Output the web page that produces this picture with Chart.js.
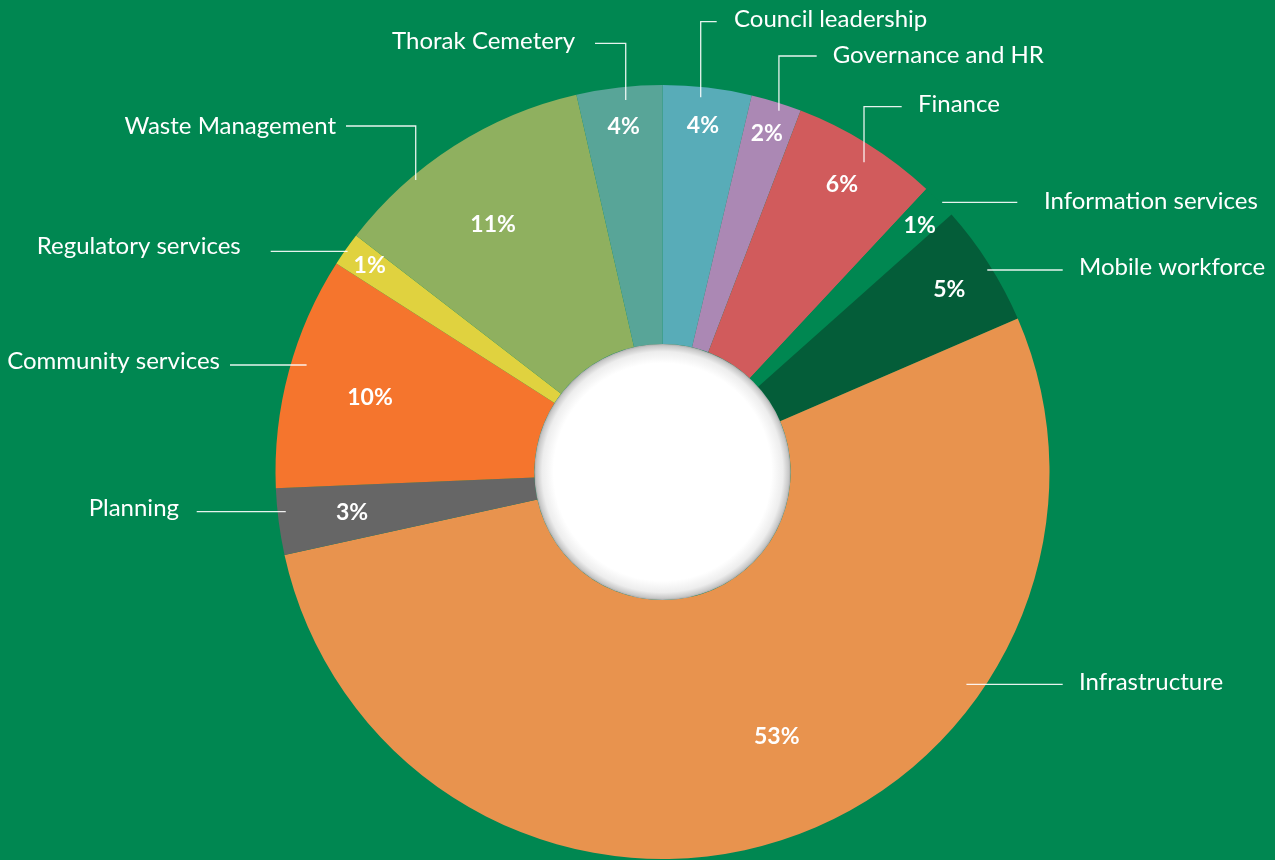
<!DOCTYPE html>
<html><head><meta charset="utf-8">
<script src="https://cdn.jsdelivr.net/npm/chart.js@4.4.0/dist/chart.umd.min.js"></script>
<style>html,body{margin:0;padding:0;background:#008751;overflow:hidden}#wrap{width:1275px;height:860px;position:relative}</style>
</head><body><div id="wrap"><canvas id="c" width="1275" height="860"></canvas></div>
<script>
const categories = ["Council leadership","Governance and HR","Finance","Information services","Mobile workforce","Infrastructure","Planning","Community services","Regulatory services","Waste Management","Thorak Cemetery"];
const values = [3.70, 2.11, 6.13, 1.48, 5.09, 53.05, 2.77, 9.72, 1.41, 10.97, 3.57];
const sliceColors = ["#58ACB8","#AB88B4","#D15B5C","#008751","#045D39","#E8934E","#666666","#F5752D","#E0D23F","#8FB05F","#58A598"];

// percentage label placement inside slices: [radius fraction, angle offset deg]
const pctPlacement = [[0.90,0],[0.916,0],[0.876,0],[0.92,0.6],[0.879,0],[0.744,-5.5],[0.809,0],[0.78,-0.8],[0.925,0],[0.775,-1.8],[0.897,0]];
// leader lines: start on the slice [radius fraction, angle offset deg], type, line y, end x, text x, text y, align
const leaderLayout = [
  {rf:0.9735, ao:-0.84, type:'v', ly:21.7, ex:716.7, tx:734, ty:19, al:'left'},
  {rf:0.981, ao:0.74, type:'v', ly:56, ex:816.7, tx:832.7, ty:55, al:'left'},
  {rf:0.955, ao:1.09, type:'v', ly:106.7, ex:901.7, tx:918, ty:104, al:'left'},
  {rf:1.003, ao:0.45, type:'h', ly:202.3, ex:1017.3, tx:1044, ty:201.5, al:'left'},
  {rf:0.9876, ao:0.71, type:'h', ly:270, ex:1062.7, tx:1079, ty:267, al:'left'},
  {rf:0.959, ao:-37.1, type:'h', ly:684.3, ex:1062.7, tx:1079, ty:682, al:'left'},
  {rf:0.979, ao:1.3, type:'h', ly:511.7, ex:196.7, tx:179, ty:508, al:'right'},
  {rf:0.96, ao:1.58, type:'h', ly:365, ex:230, tx:220, ty:361, al:'right'},
  {rf:0.993, ao:-0.15, type:'h', ly:251.3, ex:270.7, tx:240.7, ty:246, al:'right'},
  {rf:0.988, ao:-7.6, type:'v', ly:126, ex:346, tx:336, ty:126, al:'right'},
  {rf:0.966, ao:0.78, type:'v', ly:43.3, ex:595, tx:575, ty:41, al:'right'}
];

const total = values.reduce((a,b)=>a+b,0);
const D2R = Math.PI/180;

const overlay = {
  id:'overlay',
  afterDatasetsDraw(chart){
    const ctx = chart.ctx;
    const arcs = chart.getDatasetMeta(0).data;
    const a0 = arcs[0];
    const cx = a0.x, cy = a0.y, R = a0.outerRadius, r = a0.innerRadius;
    ctx.save();
    // hole
    const g = ctx.createRadialGradient(cx,cy,0,cx,cy,r);
    g.addColorStop(0,'#ffffff'); g.addColorStop(0.85,'#ffffff');
    g.addColorStop(0.94,'#ededed'); g.addColorStop(0.985,'#c8c8c8'); g.addColorStop(1,'#aaaaaa');
    ctx.fillStyle = g; ctx.beginPath(); ctx.arc(cx,cy,r,0,Math.PI*2); ctx.fill();
    // percentage labels
    ctx.fillStyle = '#ffffff';
    ctx.font = 'bold 23px Lato';
    ctx.textAlign = 'center'; ctx.textBaseline = 'middle';
    arcs.forEach((arc,i)=>{
      const p = pctPlacement[i];
      const mid = (arc.startAngle + arc.endAngle)/2 + p[1]*D2R;
      const rad = p[0]*R;
      const txt = Math.round(values[i]/total*100) + '%';
      ctx.fillText(txt, cx + Math.cos(mid)*rad, cy + Math.sin(mid)*rad);
    });
    // leader lines and category labels
    ctx.strokeStyle = 'rgba(255,255,255,0.9)';
    ctx.lineWidth = 1.3;
    ctx.font = '400 24px Lato';
    arcs.forEach((arc,i)=>{
      const L = leaderLayout[i];
      const mid = (arc.startAngle + arc.endAngle)/2 + L.ao*D2R;
      const sx = cx + Math.cos(mid)*L.rf*R, sy = cy + Math.sin(mid)*L.rf*R;
      ctx.beginPath();
      if (L.type === 'v') { ctx.moveTo(sx, sy); ctx.lineTo(sx, L.ly); ctx.lineTo(L.ex, L.ly); }
      else { ctx.moveTo(sx, L.ly); ctx.lineTo(L.ex, L.ly); }
      ctx.stroke();
      ctx.textAlign = L.al; ctx.textBaseline = 'middle';
      ctx.fillText(categories[i], L.tx, L.ty);
    });
    ctx.restore();
  }
};

new Chart(document.getElementById('c'), {
  type:'doughnut',
  data:{ labels:categories, datasets:[{ data:values, backgroundColor:sliceColors, borderWidth:0, hoverOffset:0, offset:0 }] },
  options:{
    responsive:false, animation:false, devicePixelRatio:1,
    cutout:'33.1%', rotation:0,
    layout:{ padding:{ top:85, bottom:1, left:275, right:225 } },
    plugins:{ legend:{display:false}, tooltip:{enabled:false} }
  },
  plugins:[overlay]
});
</script></body></html>
